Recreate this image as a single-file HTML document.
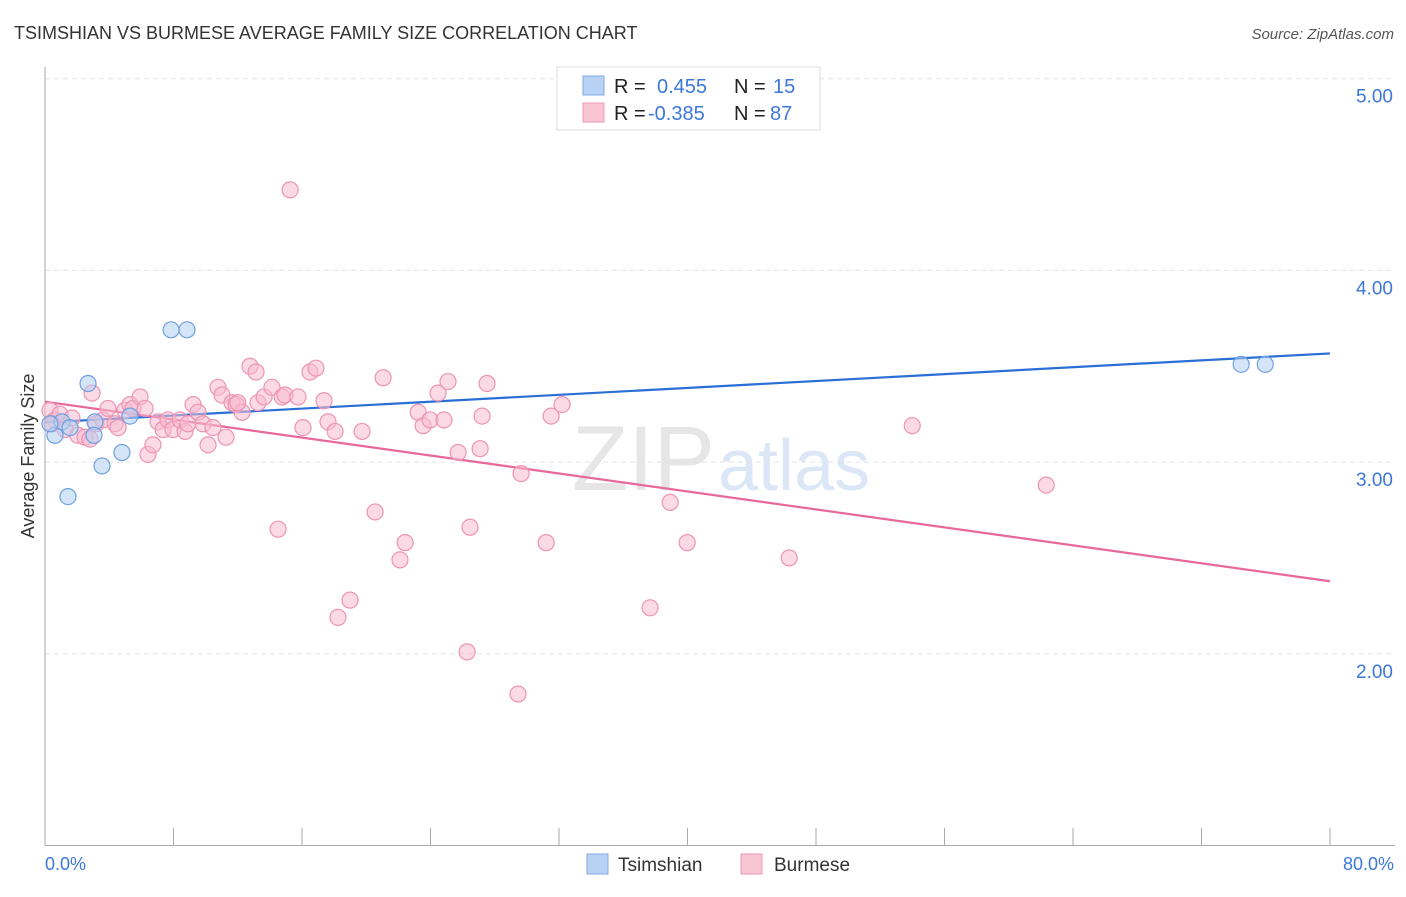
<!DOCTYPE html>
<html><head><meta charset="utf-8"><style>
body{margin:0;background:#fff;font-family:"Liberation Sans",sans-serif;}
svg text{font-family:"Liberation Sans",sans-serif;}
</style></head><body>
<svg id="chart" width="1406" height="892" xmlns="http://www.w3.org/2000/svg">
<text x="14" y="39" font-size="18" fill="#333">TSIMSHIAN VS BURMESE AVERAGE FAMILY SIZE CORRELATION CHART</text>
<text x="1394" y="39" font-size="15" fill="#555" text-anchor="end" font-style="italic">Source: ZipAtlas.com</text>
<text x="715" y="490" font-size="92" fill="#e6e6e6" text-anchor="end" font-family="Liberation Serif">ZIP</text>
<text x="718" y="490" font-size="72" fill="#dbe7f6">atlas</text>
<g id="grid"></g><g id="axes"></g><g id="lines"></g><g id="pts"></g>
<text transform="translate(34,456) rotate(-90)" font-size="18" fill="#333" text-anchor="middle">Average Family Size</text>
<text x="45" y="870" font-size="18" fill="#3b78d8">0.0%</text>
<text x="1394" y="870" font-size="18" fill="#3b78d8" text-anchor="end">80.0%</text>
<g>
<rect x="557" y="67" width="263" height="63" fill="#fff" stroke="#ddd"/>
<rect x="583" y="76" width="21" height="19" fill="#b8d2f4" stroke="#7ea9e6"/>
<rect x="583" y="103" width="21" height="19" fill="#f9c4d4" stroke="#ee9ab6"/>
<text x="614" y="93" font-size="20" fill="#222">R =</text><text x="657" y="93" font-size="20" fill="#3b78d8">0.455</text>
<text x="734" y="93" font-size="20" fill="#222">N =</text><text x="773" y="93" font-size="20" fill="#3b78d8">15</text>
<text x="614" y="120" font-size="20" fill="#222">R =</text><text x="648" y="120" font-size="20" fill="#3b78d8">-0.385</text>
<text x="734" y="120" font-size="20" fill="#222">N =</text><text x="770" y="120" font-size="20" fill="#3b78d8">87</text>
</g>
<g>
<rect x="587" y="854" width="21" height="20" fill="#b8d2f4" stroke="#7ea9e6"/>
<text x="618" y="871" font-size="19" fill="#333">Tsimshian</text>
<rect x="741" y="854" width="21" height="20" fill="#f9c4d4" stroke="#ee9ab6"/>
<text x="774" y="871" font-size="19" fill="#333">Burmese</text>
</g>
</svg>
<script>
const yTicks=[2,3,4,5];
const yTickLabels=["2.00","3.00","4.00","5.00"];
const tsX=[0.62,1.06,1.56,1.43,2.68,3.11,3.05,3.55,4.79,5.29,7.85,8.84,74.47,75.97,0.31];
const tsY=[3.14,3.21,3.18,2.82,3.41,3.21,3.14,2.98,3.05,3.24,3.69,3.69,3.51,3.51,3.20];
const buX=[0.31,0.62,0.93,1.25,1.68,2.05,2.49,2.93,3.18,3.61,3.92,4.36,4.55,4.98,5.29,5.48,5.92,6.23,6.41,6.72,7.04,7.35,7.66,7.97,8.41,8.72,8.9,9.22,9.53,9.84,10.15,10.46,10.77,11.02,11.27,11.64,11.89,12.27,12.76,13.14,13.26,13.64,14.13,14.51,14.76,14.94,15.26,15.75,16.06,16.5,16.87,17.37,17.62,18.06,18.24,18.99,19.74,20.55,21.05,22.1,22.42,23.23,23.54,23.97,24.47,24.84,25.09,25.72,26.28,26.46,27.09,27.21,27.52,29.45,29.64,31.2,31.51,32.19,37.67,38.92,39.98,46.33,53.99,62.33,2.8,0.44,12.0];
const buY=[3.27,3.22,3.25,3.17,3.23,3.14,3.13,3.36,3.20,3.22,3.28,3.20,3.18,3.27,3.30,3.28,3.34,3.28,3.04,3.09,3.21,3.17,3.22,3.17,3.22,3.16,3.20,3.30,3.26,3.20,3.09,3.18,3.39,3.35,3.13,3.31,3.30,3.26,3.50,3.47,3.31,3.34,3.39,2.65,3.34,3.35,4.42,3.34,3.18,3.47,3.49,3.32,3.21,3.16,2.19,2.28,3.16,2.74,3.44,2.49,2.58,3.26,3.19,3.22,3.36,3.22,3.42,3.05,2.01,2.66,3.07,3.24,3.41,1.79,2.94,2.58,3.24,3.30,2.24,2.79,2.58,2.50,3.19,2.88,3.12,3.20,3.31];
const NS="http://www.w3.org/2000/svg";
const X0=45,X1=1330,Y0=845.5,PY=191.7;
const sx=v=>X0+(X1-X0)*v/80, sy=v=>Y0-(v-1)*PY;
function mk(t,a,p){const e=document.createElementNS(NS,t);for(const k in a)e.setAttribute(k,a[k]);document.getElementById(p).appendChild(e);return e;}
yTicks.forEach((t,i)=>{
 const g=mk('line',{x1:X0,x2:1395,y1:sy(t),y2:sy(t),stroke:'#e3e3e3','stroke-dasharray':'5,4'},'grid');
 
 
 const l=mk('text',{x:1393,y:sy(t)+24,'font-size':19,fill:'#3b78d8','text-anchor':'end'},'grid');
 l.textContent=yTickLabels[i];
 
 
});
const ya=mk('line',{x1:X0,x2:X0,y1:67,y2:Y0,stroke:'#aaa'},'axes');


const xa=mk('line',{x1:X0,x2:1395,y1:Y0,y2:Y0,stroke:'#aaa'},'axes');


for(let v=0;v<=80;v+=8){const t=mk('line',{x1:sx(v),x2:sx(v),y1:828,y2:Y0,stroke:'#aaa'},'axes');
 
 }
function reg(xs,ys){const n=xs.length;let mx=0,my=0;xs.forEach((x,i)=>{mx+=x;my+=ys[i];});mx/=n;my/=n;let sxy=0,sxx=0;xs.forEach((x,i)=>{sxy+=(x-mx)*(ys[i]-my);sxx+=(x-mx)**2;});const b=sxy/sxx;return [my-b*mx,b];}
function pts(xs,ys,fill,stroke,name){xs.forEach((x,i)=>{const c=mk('circle',{cx:sx(x),cy:sy(ys[i]),r:8,fill:fill,'fill-opacity':0.55,stroke:stroke,'stroke-width':1.2},'pts');
 
 });}
pts(buX,buY,'#f7bcd0','#ee93b3','burmese-point');
pts(tsX,tsY,'#b3cff3','#6f9fe0','tsimshian-point');
[[tsX,tsY,'#2a6fd6','tsimshian-trendline'],[buX,buY,'#e8689a','burmese-trendline']].forEach(([xs,ys,c,n])=>{const [a,b]=reg(xs,ys);
 const l=mk('line',{x1:sx(0),y1:sy(a),x2:sx(80),y2:sy(a+b*80),stroke:c,'stroke-width':2.2},'lines');
 
 });
</script>
</body></html>
